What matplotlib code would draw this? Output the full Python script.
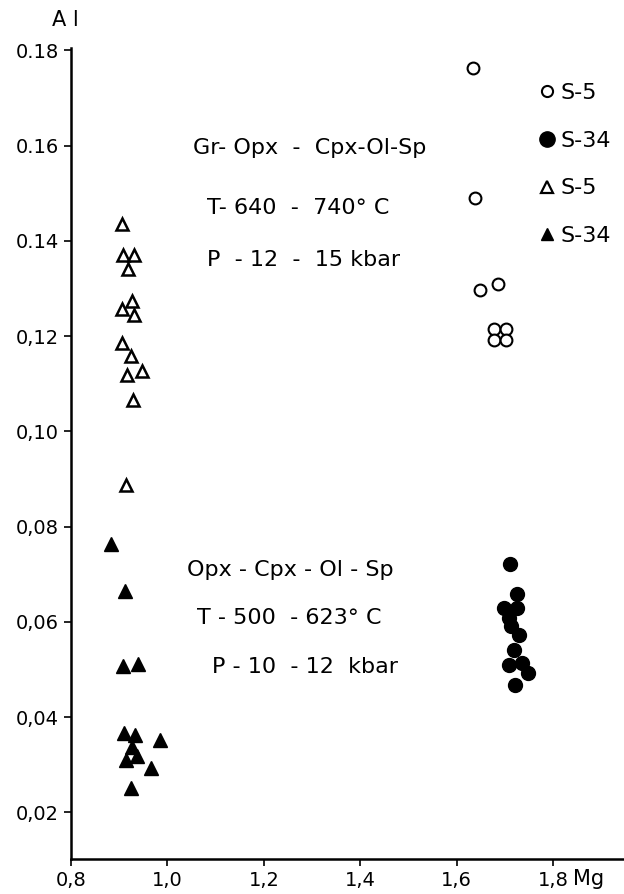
import matplotlib
matplotlib.use("Agg")
import matplotlib.pyplot as plt
from matplotlib.lines import Line2D

# S-5 orthopyroxene-type (open triangles)
tri_open_mg = [0.905, 0.907, 0.931, 0.919, 0.927, 0.905, 0.931, 0.906, 0.925, 0.916, 0.947, 0.928, 0.914]
tri_open_al = [0.1435, 0.137, 0.137, 0.134, 0.1274, 0.1256, 0.1244, 0.1185, 0.1159, 0.1119, 0.1126, 0.1066, 0.0887]

# S-34 (filled triangles)
tri_fill_mg = [0.884, 0.913, 0.907, 0.938, 0.910, 0.933, 0.985, 0.926, 0.936, 0.914, 0.965, 0.924]
tri_fill_al = [0.0764, 0.0665, 0.0508, 0.0511, 0.0367, 0.0363, 0.0351, 0.0337, 0.0319, 0.0310, 0.0293, 0.0251]

# S-5 (open circles)
circ_open_mg = [1.635, 1.638, 1.648, 1.686, 1.677, 1.703, 1.677, 1.703]
circ_open_al = [0.1762, 0.1489, 0.1297, 0.1309, 0.1215, 0.1215, 0.1192, 0.1192]

# S-34 (filled circles)
circ_fill_mg = [1.710, 1.725, 1.698, 1.725, 1.708, 1.712, 1.729, 1.720, 1.708, 1.736, 1.748, 1.721]
circ_fill_al = [0.0721, 0.0658, 0.0630, 0.0630, 0.0609, 0.0592, 0.0572, 0.0541, 0.0509, 0.0513, 0.0493, 0.0467]

x_ticks = [0.8, 1.0, 1.2, 1.4, 1.6, 1.8]
x_ticklabels = ["0,8", "1,0", "1,2", "1,4", "1,6", "1,8"]
y_ticks = [0.02, 0.04, 0.06, 0.08, 0.10, 0.12, 0.14, 0.16, 0.18]
y_ticklabels = ["0,02", "0,04", "0,06", "0,08", "0,10", "0,12", "0.14", "0.16", "0.18"]

legend_labels = ["S-5", "S-34", "S-5", "S-34"]

plt.rcParams['font.family'] = ['DejaVu Sans']

fig = plt.figure(figsize=(6.24, 8.94), dpi=100)
ax = fig.add_axes([0.1138, 0.0392, 0.886, 0.9071])

ax.plot(tri_open_mg, tri_open_al, linestyle='none', marker='^', ms=8.5,
        mfc='white', mec='black', mew=1.8)
ax.plot(tri_fill_mg, tri_fill_al, linestyle='none', marker='^', ms=10,
        mfc='black', mec='black', mew=1)
ax.plot(circ_open_mg, circ_open_al, linestyle='none', marker='o', ms=8.5,
        mfc='white', mec='black', mew=1.5)
ax.plot(circ_fill_mg, circ_fill_al, linestyle='none', marker='o', ms=10,
        mfc='black', mec='black', mew=1)

ax.set_xlim(0.8, 1.947)
ax.set_ylim(0.0102, 0.1805)
ax.set_xticks(x_ticks)
ax.set_xticklabels(x_ticklabels)
ax.set_yticks(y_ticks)
ax.set_yticklabels(y_ticklabels)
ax.tick_params(labelsize=14, length=5, width=1.2, pad=4)

for s in ['top', 'right']:
    ax.spines[s].set_visible(False)
for s in ['left', 'bottom']:
    ax.spines[s].set_linewidth(1.8)

handles = [
    Line2D([], [], linestyle='none', marker='o', ms=8, mfc='white', mec='black', mew=1.5),
    Line2D([], [], linestyle='none', marker='o', ms=11, mfc='black', mec='black'),
    Line2D([], [], linestyle='none', marker='^', ms=8, mfc='white', mec='black', mew=1.6),
    Line2D([], [], linestyle='none', marker='^', ms=9, mfc='black', mec='black'),
]
ax.legend(handles, legend_labels, loc='upper left', bbox_to_anchor=(0.829, 0.968),
          frameon=False, fontsize=16, handlelength=0.8, handletextpad=0.2,
          labelspacing=1.25, borderaxespad=0)

txt = dict(fontsize=16, ha='left', va='center', transform=ax.transAxes)
ax.text(0.221, 0.877, "Gr- Opx  -  Cpx-Ol-Sp", **txt)
ax.text(0.246, 0.803, "T- 640  -  740° C", **txt)
ax.text(0.246, 0.739, "P  - 12  -  15 kbar", **txt)
ax.text(0.210, 0.356, "Opx - Cpx - Ol - Sp", **txt)
ax.text(0.228, 0.297, "T - 500  - 623° C", **txt)
ax.text(0.255, 0.237, "P - 10  - 12  kbar", **txt)

fig.text(65 / 624, 1 - 20 / 894, "A l", fontsize=15, ha='center', va='center')
fig.text(589 / 624, 1 - 879 / 894, "Mg", fontsize=15, ha='center', va='center')

fig.savefig("out.png", dpi=100)
